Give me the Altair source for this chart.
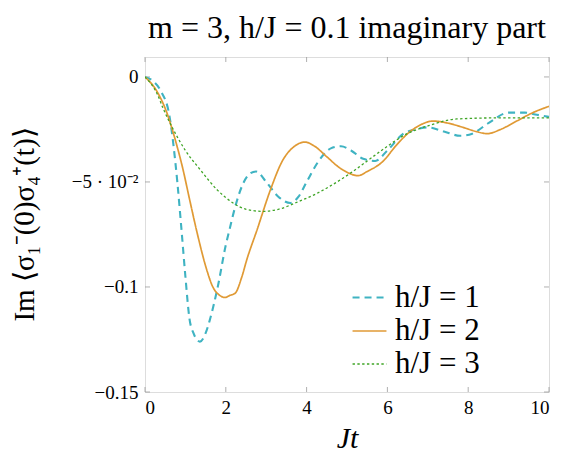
import altair as alt
import pandas as pd

# ---- data ----
t1 = [0, 0.2, 0.4, 0.6, 0.8, 0.9, 1.0, 1.1, 1.2, 1.36, 1.5, 1.6, 1.8, 2.0, 2.1, 2.23, 2.4, 2.6, 2.75,
      3.0, 3.3, 3.6, 3.8, 4.0, 4.3, 4.6, 4.85, 5.1, 5.4, 5.7, 6.0, 6.4, 6.7, 7.0, 7.4, 7.8, 8.1, 8.5,
      9.0, 9.4, 9.7, 10]
v1 = [0, -0.002, -0.007, -0.018, -0.050, -0.072, -0.095, -0.115, -0.122, -0.126, -0.122, -0.116,
      -0.100, -0.080, -0.072, -0.062, -0.052, -0.046, -0.045, -0.050, -0.057, -0.060, -0.057, -0.050,
      -0.040, -0.034, -0.033, -0.035, -0.039, -0.040, -0.035, -0.027, -0.025, -0.024, -0.026, -0.028,
      -0.027, -0.022, -0.017, -0.017, -0.018, -0.019]

t2 = [0, 0.3, 0.54, 0.75, 0.94, 1.1, 1.3, 1.5, 1.68, 1.85, 1.98, 2.1, 2.23, 2.4, 2.52, 2.77, 3.1, 3.4,
      3.7, 3.96, 4.2, 4.5, 4.8, 5.07, 5.27, 5.5, 5.9, 6.2, 6.5, 6.8, 7.13, 7.5, 7.87, 8.2, 8.47, 8.8,
      9.2, 9.6, 10]
v2 = [0, -0.007, -0.017, -0.030, -0.044, -0.058, -0.075, -0.090, -0.100, -0.104, -0.105, -0.104,
      -0.103, -0.095, -0.087, -0.073, -0.054, -0.040, -0.033, -0.031, -0.033, -0.038, -0.043, -0.046,
      -0.047, -0.045, -0.040, -0.033, -0.027, -0.023, -0.021, -0.022, -0.024, -0.026, -0.027, -0.025,
      -0.021, -0.017, -0.014]

t3 = [0, 0.3, 0.45, 0.7, 1.0, 1.36, 1.8, 2.18, 2.5, 2.92, 3.3, 3.84, 4.2, 4.58, 5.07, 5.64, 6.0,
      6.39, 7.05, 7.72, 8.7, 10]
v3 = [0, -0.008, -0.015, -0.025, -0.035, -0.044, -0.054, -0.060, -0.063, -0.064, -0.063, -0.059,
      -0.056, -0.052, -0.046, -0.038, -0.033, -0.028, -0.023, -0.020, -0.0195, -0.0195]

series_names = ["h/J = 1", "h/J = 2", "h/J = 3"]
series_colors = ["#3fb3c2", "#e09a35", "#3fa526"]
series_dash = [[7, 5], [1, 0], [2.4, 2.4]]
series_width = [2.1, 1.3, 2.5]

xticks = [0, 2, 4, 6, 8, 10]
yticks = [0, -0.05, -0.1, -0.15]
ylabels = ["0", "−5 · 10⁻²", "−0.1", "−0.15"]

W, H = 404, 335
FONT = "Liberation Serif"

rows = []
for name, ts, vs in zip(series_names, [t1, t2, t3], [v1, v2, v3]):
    for t, v in zip(ts, vs):
        rows.append({"t": t, "v": v, "s": name})
df = pd.DataFrame(rows)

xscale = alt.Scale(domain=[0, 10], nice=False, zero=False)
yscale = alt.Scale(domain=[-0.15, 0.0095], nice=False, zero=False)

ylabel_expr = " : ".join(
    f"abs(datum.value - ({v})) < 1e-9 ? '{l}'" for v, l in zip(yticks, ylabels)
) + " : ''"

lines = alt.Chart(df).mark_line(interpolate="monotone", clip=True).encode(
    x=alt.X("t:Q", scale=xscale,
            axis=alt.Axis(values=xticks, title="Jt", titleFont=FONT, titleFontSize=30,
                          titleFontStyle="italic", titleFontWeight="normal",
                          titleX=202, titleY=46, titleBaseline="middle",
                          labelFont=FONT, labelFontSize=19, labelPadding=6,
                          ticks=False, domain=False, grid=False, labelColor="#000")),
    y=alt.Y("v:Q", scale=yscale,
            axis=alt.Axis(values=yticks, labelExpr=ylabel_expr, title="Im ⟨σ₁⁻(0)σ₄⁺(t)⟩",
                          titleFont=FONT, titleFontSize=29, titleFontWeight="normal",
                          titleX=-121, titleY=167, titleAngle=-90, titleBaseline="middle",
                          titleAlign="center",
                          labelFont=FONT, labelFontSize=19, labelPadding=7,
                          ticks=False, domain=False, grid=False, labelColor="#000")),
    color=alt.Color("s:N", scale=alt.Scale(domain=series_names, range=series_colors),
                    legend=alt.Legend(title=None, orient="none", legendX=206, legendY=222,
                                      symbolType="stroke", symbolSize=1150,
                                      labelFont=FONT, labelFontSize=31, labelOffset=7,
                                      labelColor="#000",
                                      rowPadding=0, symbolStrokeWidth=2)),
    strokeDash=alt.StrokeDash("s:N", scale=alt.Scale(domain=series_names, range=series_dash),
                              legend=None),
    strokeWidth=alt.StrokeWidth("s:N", scale=alt.Scale(domain=series_names, range=series_width),
                                legend=None),
)

tick_df = pd.DataFrame({"t": xticks})
ytick_df = pd.DataFrame({"v": yticks})
tick_color = "#9a9a9a"

xt_bottom = alt.Chart(tick_df).mark_rule(color=tick_color, strokeWidth=0.8).encode(
    x=alt.X("t:Q", scale=xscale), y=alt.value(H), y2=alt.value(H - 5))
xt_top = alt.Chart(tick_df).mark_rule(color=tick_color, strokeWidth=0.8).encode(
    x=alt.X("t:Q", scale=xscale), y=alt.value(0), y2=alt.value(5))
yt_left = alt.Chart(ytick_df).mark_rule(color=tick_color, strokeWidth=0.8).encode(
    y=alt.Y("v:Q", scale=yscale), x=alt.value(0), x2=alt.value(5))
yt_right = alt.Chart(ytick_df).mark_rule(color=tick_color, strokeWidth=0.8).encode(
    y=alt.Y("v:Q", scale=yscale), x=alt.value(W - 5), x2=alt.value(W))

chart = alt.layer(xt_bottom, xt_top, yt_left, yt_right, lines).properties(
    width=W, height=H,
    title=alt.TitleParams("m = 3, h/J = 0.1 imaginary part", font=FONT, fontSize=32,
                          fontWeight="normal", anchor="middle", offset=12, color="#000"),
    autosize=alt.AutoSizeParams(type="none"),
    padding={"left": 145, "top": 57, "right": 18, "bottom": 64},
).configure_view(stroke="#333333", strokeWidth=1.2).configure(background="white", font=FONT)

chart.save("out.html", embed_options={"renderer": "svg", "actions": False})
